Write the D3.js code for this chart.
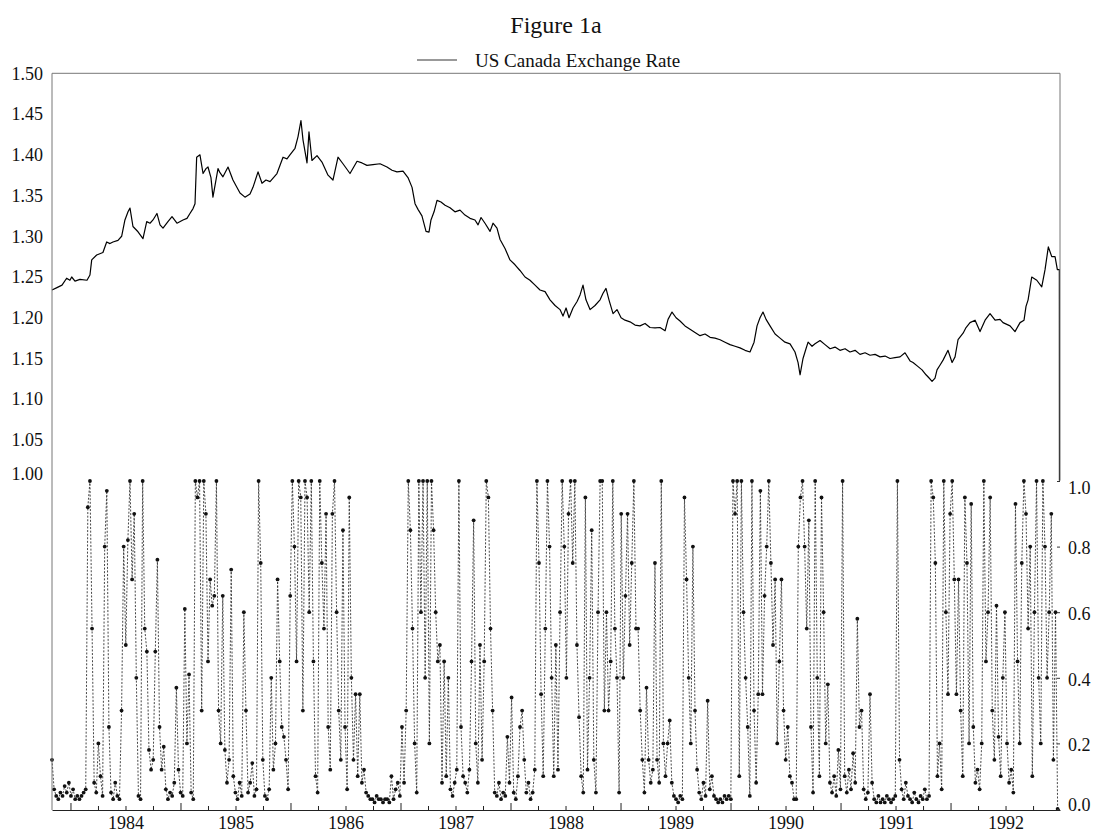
<!DOCTYPE html>
<html>
<head>
<meta charset="utf-8">
<script src="https://cdn.jsdelivr.net/npm/d3@7"></script>
<style>
body { margin: 0; background: #fff; }
svg text { font-family: 'Liberation Serif', 'Times New Roman', serif; fill: #111; }
</style>
</head>
<body>
<svg id="chart" width="1094" height="833"></svg>
<script>
const title = 'Figure 1a';
const legendLabel = 'US Canada Exchange Rate';
const yearLabels = [1984, 1985, 1986, 1987, 1988, 1989, 1990, 1991, 1992];
const rateTicks = [1.00, 1.05, 1.10, 1.15, 1.20, 1.25, 1.30, 1.35, 1.40, 1.45, 1.50];
const probTicks = [0.0, 0.2, 0.4, 0.6, 0.8, 1.0];

// first weekly observation (decimal year) and sampling rate
const probStart = 1983.832;
const weeksPerYear = 52.18;

// [decimal year, US$/C$ rate]
const rateSeries = [
  [1983.832,1.234],[1983.877,1.237],[1983.923,1.240],[1983.965,1.2485],[1983.995,1.246],
  [1984.011,1.250],[1984.041,1.245],[1984.086,1.247],[1984.150,1.246],[1984.177,1.2525],
  [1984.193,1.271],[1984.238,1.277],[1984.295,1.280],[1984.329,1.293],[1984.359,1.291],
  [1984.386,1.293],[1984.432,1.295],[1984.465,1.300],[1984.495,1.320],[1984.523,1.330],
  [1984.541,1.3345],[1984.568,1.312],[1984.614,1.3055],[1984.659,1.297],[1984.693,1.318],
  [1984.723,1.316],[1984.750,1.320],[1984.786,1.328],[1984.814,1.314],[1984.841,1.310],
  [1984.886,1.318],[1984.923,1.324],[1984.968,1.316],[1985.023,1.320],[1985.059,1.322],
  [1985.086,1.328],[1985.114,1.334],[1985.132,1.340],[1985.147,1.397],[1985.177,1.400],
  [1985.205,1.377],[1985.232,1.383],[1985.250,1.385],[1985.277,1.372],[1985.295,1.348],
  [1985.341,1.383],[1985.359,1.378],[1985.386,1.373],[1985.432,1.385],[1985.477,1.369],
  [1985.505,1.362],[1985.541,1.353],[1985.586,1.348],[1985.632,1.352],[1985.659,1.360],
  [1985.705,1.379],[1985.741,1.365],[1985.777,1.369],[1985.814,1.367],[1985.877,1.377],
  [1985.932,1.397],[1985.968,1.395],[1985.995,1.400],[1986.041,1.408],[1986.068,1.422],
  [1986.095,1.442],[1986.114,1.418],[1986.150,1.390],[1986.168,1.428],[1986.195,1.393],
  [1986.241,1.399],[1986.286,1.391],[1986.341,1.375],[1986.386,1.369],[1986.432,1.397],
  [1986.477,1.389],[1986.541,1.377],[1986.605,1.392],[1986.650,1.390],[1986.695,1.387],
  [1986.750,1.388],[1986.814,1.389],[1986.877,1.385],[1986.923,1.381],[1986.968,1.379],
  [1987.023,1.380],[1987.068,1.372],[1987.105,1.360],[1987.132,1.340],[1987.159,1.333],
  [1987.195,1.325],[1987.232,1.306],[1987.259,1.305],[1987.277,1.320],[1987.305,1.330],
  [1987.332,1.344],[1987.368,1.342],[1987.405,1.338],[1987.450,1.335],[1987.495,1.330],
  [1987.541,1.332],[1987.586,1.326],[1987.632,1.322],[1987.677,1.320],[1987.705,1.314],
  [1987.732,1.323],[1987.768,1.316],[1987.814,1.306],[1987.841,1.316],[1987.877,1.310],
  [1987.905,1.296],[1987.950,1.285],[1987.995,1.271],[1988.041,1.265],[1988.086,1.258],
  [1988.132,1.250],[1988.177,1.246],[1988.223,1.240],[1988.268,1.234],[1988.314,1.232],
  [1988.359,1.222],[1988.405,1.215],[1988.450,1.210],[1988.477,1.202],[1988.505,1.212],
  [1988.532,1.200],[1988.568,1.212],[1988.605,1.220],[1988.632,1.228],[1988.659,1.240],
  [1988.686,1.222],[1988.723,1.210],[1988.768,1.215],[1988.814,1.222],[1988.841,1.230],
  [1988.868,1.236],[1988.895,1.222],[1988.932,1.205],[1988.968,1.210],[1989.005,1.200],
  [1989.041,1.197],[1989.086,1.195],[1989.132,1.191],[1989.177,1.190],[1989.223,1.193],
  [1989.268,1.188],[1989.314,1.1875],[1989.359,1.188],[1989.405,1.184],[1989.432,1.198],
  [1989.468,1.207],[1989.505,1.200],[1989.541,1.196],[1989.586,1.190],[1989.632,1.186],
  [1989.677,1.182],[1989.723,1.178],[1989.768,1.180],[1989.814,1.176],[1989.859,1.175],
  [1989.905,1.173],[1989.950,1.170],[1989.995,1.167],[1990.041,1.165],[1990.086,1.163],
  [1990.132,1.160],[1990.177,1.158],[1990.214,1.170],[1990.241,1.190],[1990.268,1.200],
  [1990.295,1.207],[1990.323,1.198],[1990.359,1.190],[1990.405,1.180],[1990.450,1.175],
  [1990.495,1.170],[1990.541,1.168],[1990.586,1.158],[1990.614,1.145],[1990.632,1.130],
  [1990.659,1.150],[1990.686,1.162],[1990.705,1.170],[1990.741,1.165],[1990.768,1.168],
  [1990.814,1.172],[1990.859,1.167],[1990.905,1.162],[1990.950,1.164],[1990.995,1.160],
  [1991.041,1.162],[1991.086,1.158],[1991.132,1.160],[1991.177,1.155],[1991.223,1.157],
  [1991.268,1.154],[1991.314,1.155],[1991.359,1.152],[1991.405,1.153],[1991.450,1.150],
  [1991.495,1.151],[1991.541,1.152],[1991.586,1.157],[1991.632,1.147],[1991.659,1.145],
  [1991.705,1.140],[1991.741,1.136],[1991.777,1.130],[1991.805,1.126],[1991.832,1.122],
  [1991.859,1.126],[1991.877,1.136],[1991.905,1.142],[1991.932,1.148],[1991.977,1.160],
  [1992.014,1.145],[1992.041,1.152],[1992.068,1.173],[1992.114,1.181],[1992.141,1.188],
  [1992.177,1.194],[1992.223,1.197],[1992.268,1.183],[1992.314,1.197],[1992.359,1.205],
  [1992.405,1.197],[1992.450,1.198],[1992.477,1.194],[1992.541,1.190],[1992.586,1.183],
  [1992.632,1.194],[1992.668,1.197],[1992.686,1.214],[1992.705,1.222],[1992.738,1.250],
  [1992.784,1.246],[1992.829,1.238],[1992.859,1.259],[1992.889,1.287],[1992.920,1.275],
  [1992.950,1.275],[1992.971,1.259],[1992.989,1.259],[1992.990,1.000]
];

// weekly regime probability, in percent
const probPct = [
  15,6,4,3,5,4,7,5,8,4, 6,3,4,3,4,5,6,92,100,55,
  8,5,20,10,4,80,97,25,5,3, 8,4,3,30,80,50,82,100,70,90,
  40,4,3,100,55,48,18,12,15,48, 76,25,12,19,6,3,5,4,8,37,
  12,5,4,61,20,41,5,3,100,95, 100,30,100,90,45,70,62,65,100,30,
  20,65,18,8,15,73,10,5,3,8, 4,60,30,5,8,14,4,6,100,75,
  15,4,3,6,40,12,20,70,45,25, 22,15,6,65,100,80,45,100,95,30,
  100,95,60,100,45,10,5,100,75,55, 90,25,12,90,100,60,30,15,85,25,
  6,95,40,15,35,10,35,8,12,5, 4,3,3,2,4,3,3,2,3,3,
  2,10,3,6,8,4,25,8,30,100, 85,55,20,5,100,60,100,40,100,20,
  100,85,60,45,50,8,45,10,40,6, 4,8,12,100,25,10,8,5,12,45,
  88,20,8,50,15,45,100,95,55,30, 5,4,8,3,5,4,22,8,34,5,
  3,10,25,30,15,5,8,3,5,12, 100,75,35,10,55,100,80,40,10,50,
  12,60,100,80,40,90,100,75,100,50, 28,10,5,95,12,40,85,15,5,60,
  100,100,30,60,30,45,100,55,40,5, 90,40,65,90,50,75,100,55,55,30,
  15,5,37,15,8,12,75,15,8,100, 20,10,20,27,8,4,3,2,4,3,
  95,70,40,20,80,30,12,5,3,8, 4,33,6,10,4,3,2,3,2,4,
  3,4,3,100,90,100,10,100,60,40, 25,4,100,30,8,35,97,35,65,80,
  100,75,50,70,20,45,70,30,15,25, 10,8,3,3,80,95,100,80,55,88,
  25,5,100,40,10,95,60,20,38,8, 5,10,4,18,6,100,10,5,12,6,
  17,8,58,25,30,6,3,5,35,8, 3,2,4,2,3,2,4,3,2,3,
  4,100,15,6,3,8,4,3,2,5, 3,2,4,3,6,3,4,100,95,75,
  10,20,6,100,60,35,90,100,70,35, 70,30,10,95,75,20,93,25,8,12,
  6,20,100,45,60,95,30,15,62,22, 10,40,60,20,8,12,5,93,45,20,
  75,100,90,55,80,10,60,100,40,20, 100,80,40,60,90,15,60,0
];

const plotLeft = 52, plotRight = 1060, plotTop = 73.3, plotMid = 480.7, plotBottom = 810;

const svg = d3.select('#chart');

const x = d3.scaleLinear().domain([1983.832, 1992.995]).range([plotLeft, plotRight]);
const yRate = d3.scaleLinear().domain([1.0, 1.5]).range([plotMid, plotTop]);
const yProb = d3.scaleLinear().domain([0, 1]).range([809, 481]);

const probData = probPct.map((p, i) => ({t: probStart + i / weeksPerYear, p: p / 100}));

// title and legend
svg.append('text')
  .attr('x', (plotLeft + plotRight) / 2)
  .attr('y', 33)
  .style('font-size', '24px')
  .style('text-anchor', 'middle')
  .text(title);

svg.append('line')
  .attr('x1', 417).attr('x2', 457)
  .attr('y1', 60).attr('y2', 60)
  .attr('stroke', '#777')
  .attr('stroke-width', 1.3);

svg.append('text')
  .attr('x', 475)
  .attr('y', 66.5)
  .style('font-size', '19px')
  .text(legendLabel);

// probability series: dotted line with dots
svg.append('path')
  .datum(probData)
  .attr('fill', 'none')
  .attr('stroke', '#333')
  .attr('stroke-width', 0.9)
  .attr('stroke-dasharray', '2,1.6')
  .attr('d', d3.line().x(d => x(d.t)).y(d => yProb(d.p)));

svg.append('g')
  .selectAll('circle')
  .data(probData)
  .enter()
  .append('circle')
  .attr('cx', d => x(d.t))
  .attr('cy', d => yProb(d.p))
  .attr('r', 1.9)
  .attr('fill', '#111');

// exchange rate
svg.append('path')
  .datum(rateSeries)
  .attr('fill', 'none')
  .attr('stroke', '#000')
  .attr('stroke-width', 1.2)
  .attr('stroke-linejoin', 'round')
  .attr('d', d3.line().x(d => x(d[0])).y(d => yRate(d[1])));

// frame
svg.append('line')
  .attr('x1', plotLeft).attr('x2', plotRight)
  .attr('y1', plotTop).attr('y2', plotTop)
  .attr('stroke', '#777');
svg.append('line')
  .attr('x1', plotRight).attr('x2', plotRight)
  .attr('y1', plotTop).attr('y2', plotMid)
  .attr('stroke', '#777');
svg.append('line')
  .attr('x1', plotLeft).attr('x2', plotLeft)
  .attr('y1', plotTop).attr('y2', plotBottom)
  .attr('stroke', '#777');

// left axis
const leftAxis = svg.append('g')
  .attr('transform', `translate(${plotLeft},0)`)
  .call(d3.axisLeft(yRate).tickValues(rateTicks).tickSize(0).tickPadding(9).tickFormat(d3.format('.2f')));
leftAxis.select('.domain').remove();
leftAxis.selectAll('text')
  .style('font-size', '18px')
  .attr('dy', d => d === 1 ? '-0.05em' : '0.32em');

// right axis
const rightAxis = svg.append('g')
  .attr('transform', `translate(${plotRight},0)`)
  .call(d3.axisRight(yProb).tickValues(probTicks).tickSizeInner(-3).tickSizeOuter(0).tickPadding(8).tickFormat(d3.format('.1f')));
rightAxis.select('.domain').remove();
rightAxis.selectAll('line').attr('stroke', '#333');
rightAxis.selectAll('text')
  .style('font-size', '18px')
  .attr('dy', d => d === 1 ? '0.72em' : (d === 0 ? '0.1em' : '0.4em'));

// bottom axis: quarter ticks, year ticks, centred year labels
const quarters = d3.range(1984.25, 1993, 0.25).filter(q => q % 1 !== 0);
const yearEdges = d3.range(1984, 1993);

const minorAxis = svg.append('g')
  .attr('transform', `translate(0,${plotBottom})`)
  .call(d3.axisTop(x).tickValues(quarters).tickSizeInner(4).tickSizeOuter(0).tickFormat(''));
minorAxis.select('.domain').attr('stroke', '#222');
minorAxis.selectAll('line').attr('stroke', '#222');

const majorAxis = svg.append('g')
  .attr('transform', `translate(0,${plotBottom})`)
  .call(d3.axisTop(x).tickValues(yearEdges).tickSize(7).tickFormat(''));
majorAxis.select('.domain').remove();
majorAxis.selectAll('line').attr('stroke', '#222');

const labelAxis = svg.append('g')
  .attr('transform', `translate(0,${plotBottom})`)
  .call(d3.axisBottom(x).tickValues(yearLabels.map(y => y + 0.5)).tickSize(0).tickPadding(6).tickFormat(d => Math.floor(d)));
labelAxis.select('.domain').remove();
labelAxis.selectAll('text').style('font-size', '18px');

svg.selectAll('g').attr('font-family', null);
svg.selectAll('.tick text').attr('fill', '#111');
</script>
</body>
</html>
